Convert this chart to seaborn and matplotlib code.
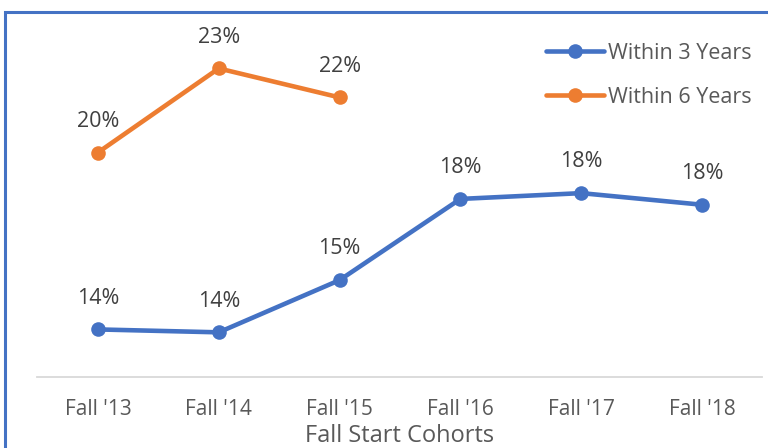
import numpy as np
import pandas as pd
import matplotlib
matplotlib.use("Agg")
import matplotlib.pyplot as plt
from matplotlib.patches import Rectangle
import seaborn as sns

cohorts = ["Fall '13", "Fall '14", "Fall '15", "Fall '16", "Fall '17", "Fall '18"]
within_3 = [13.7, 13.6, 15.4, 18.2, 18.4, 18.0]
within_6 = [19.8, 22.7, 21.7, np.nan, np.nan, np.nan]
series_names = ["Within 3 Years", "Within 6 Years"]
colors = ["#4472C4", "#ED7D31"]

sns.set_theme(style="white")
plt.rcParams['font.family'] = ['Open Sans', 'DejaVu Sans']

fig = plt.figure(figsize=(7.68, 4.48), dpi=100)
ax = fig.add_axes([37.5 / 768, (448 - 376.7) / 448, 725 / 768, (376.7 - 20) / 448])

pos = np.arange(len(cohorts))
for name, vals, c in zip(series_names, [within_3, within_6], colors):
    df = pd.DataFrame({"x": pos, "y": vals}).dropna()
    sns.lineplot(data=df, x="x", y="y", ax=ax, color=c, linewidth=3.3,
                 marker="o", markersize=10.5, markeredgewidth=0, label=name)
    for xi, yi in zip(df["x"], df["y"]):
        ax.annotate(f"{yi:.0f}%", (xi, yi), xytext=(0, 22.5), textcoords="offset points",
                    ha="center", va="center", fontsize=15.5, color="#404040")

ax.set_xlim(-0.5, 5.5)
ax.set_ylim(12.07, 24.37)
ax.set_xticks(pos)
ax.set_xticklabels(cohorts, fontsize=15, color="#595959")
ax.set_yticks([])
ax.tick_params(axis="x", length=0, pad=16)
for s in ["top", "right", "left"]:
    ax.spines[s].set_visible(False)
ax.spines["bottom"].set_color("#D9D9D9")
ax.spines["bottom"].set_linewidth(1.3)
ax.set_xlabel("Fall Start Cohorts", fontsize=17, color="#595959", labelpad=3)
ax.set_ylabel("")

leg = ax.legend(loc="upper left", bbox_to_anchor=(535 / 768, 1 - 32 / 448),
                bbox_transform=fig.transFigure, frameon=False, fontsize=15.5,
                handlelength=2.7, handletextpad=0.2, labelspacing=1.08, borderpad=0)
for t in leg.get_texts():
    t.set_color("#595959")

fig.patches.append(Rectangle((5 / 768, -0.1), 1.2, 0.1 + 1 - 12 / 448,
                             transform=fig.transFigure, fill=False,
                             edgecolor="#4472C4", linewidth=2.2, zorder=10))

fig.savefig("out.png", dpi=100)
